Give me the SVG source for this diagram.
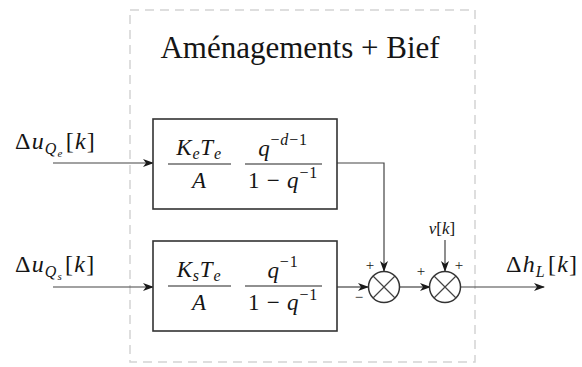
<svg xmlns="http://www.w3.org/2000/svg" width="582" height="367" viewBox="0 0 582 367">
<style>
.frame{fill:none;stroke:#d4d4d4;stroke-width:1.5;stroke-dasharray:9 6}
.blk{fill:#fff;stroke:#333;stroke-width:1.6}
.ln{fill:none;stroke:#444;stroke-width:1.2}
.bar{stroke:#222;stroke-width:1.1}
.sum{fill:#fff;stroke:#333;stroke-width:1.5}
text{font-family:'Liberation Serif','DejaVu Serif',serif;fill:#151515}
.m{font-size:23px}
.lb{font-size:24px;letter-spacing:1.2px}
.fr{letter-spacing:0.8px}
.i{font-style:italic}
.s{font-size:16px}
.ss{font-size:11px}
.sg{font-size:15px}
</style>
<defs>
<marker id="ah" markerWidth="11" markerHeight="8" refX="10" refY="4" orient="auto" markerUnits="userSpaceOnUse">
<path d="M0,0 L11,4 L0,8 L3,4 Z" fill="#1a1a1a"/>
</marker>
</defs>
<rect class="frame" x="130" y="10" width="345" height="352"/>
<text x="300" y="58" text-anchor="middle" font-size="31">Aménagements + Bief</text>

<g id="connectors">
<line class="ln" x1="53" y1="163" x2="153" y2="163" marker-end="url(#ah)"/>
<line class="ln" x1="53" y1="287" x2="153" y2="287" marker-end="url(#ah)"/>
<polyline class="ln" points="337,163 384,163 384,271" marker-end="url(#ah)"/>
<line class="ln" x1="337" y1="287" x2="368" y2="287" marker-end="url(#ah)"/>
<line class="ln" x1="400" y1="287" x2="430" y2="287" marker-end="url(#ah)"/>
<line class="ln" x1="445" y1="240" x2="445" y2="271" marker-end="url(#ah)"/>
<line class="ln" x1="461" y1="287" x2="544" y2="287" marker-end="url(#ah)"/>
</g>

<g id="in1">
<text class="lb" x="15" y="149">Δ<tspan class="i">u</tspan><tspan class="s i" dy="5">Q</tspan><tspan class="ss i" dy="3">e</tspan><tspan dx="2" dy="-8">[</tspan><tspan class="i">k</tspan>]</text>
</g>
<g id="in2">
<text class="lb" x="15" y="272">Δ<tspan class="i">u</tspan><tspan class="s i" dy="5">Q</tspan><tspan class="ss i" dy="3">s</tspan><tspan dx="2" dy="-8">[</tspan><tspan class="i">k</tspan>]</text>
</g>

<g id="block1">
<rect class="blk" x="153" y="119" width="184" height="90"/>
<line class="bar" x1="168" y1="164" x2="231" y2="164"/>
<text class="m i fr" x="199" y="155" text-anchor="middle">K<tspan class="s" dy="4">e</tspan><tspan dy="-4">T</tspan><tspan class="s" dy="4">e</tspan></text>
<text class="m i" x="199" y="188" text-anchor="middle">A</text>
<line class="bar" x1="245" y1="164" x2="322" y2="164"/>
<text class="m fr" x="283" y="156" text-anchor="middle"><tspan class="i">q</tspan><tspan class="s" dy="-11">−<tspan class="i">d</tspan>−1</tspan></text>
<text class="m fr" x="283" y="188" text-anchor="middle">1 − <tspan class="i">q</tspan><tspan class="s" dy="-10">−1</tspan></text>
</g>

<g id="block2">
<rect class="blk" x="153" y="241" width="184" height="90"/>
<line class="bar" x1="168" y1="286" x2="231" y2="286"/>
<text class="m i fr" x="199" y="277" text-anchor="middle">K<tspan class="s" dy="4">s</tspan><tspan dy="-4">T</tspan><tspan class="s" dy="4">e</tspan></text>
<text class="m i" x="199" y="310" text-anchor="middle">A</text>
<line class="bar" x1="245" y1="286" x2="322" y2="286"/>
<text class="m fr" x="283" y="278" text-anchor="middle"><tspan class="i">q</tspan><tspan class="s" dy="-11">−1</tspan></text>
<text class="m fr" x="283" y="310" text-anchor="middle">1 − <tspan class="i">q</tspan><tspan class="s" dy="-10">−1</tspan></text>
</g>

<g id="sum1">
<circle class="sum" cx="384" cy="287" r="15.5"/>
<path class="ln" stroke-width="1.4" d="M373,276 L395,298 M395,276 L373,298"/>
<text class="sg" x="370" y="270" text-anchor="middle">+</text>
<text class="sg" x="359" y="302" text-anchor="middle">−</text>
</g>

<g id="sum2">
<circle class="sum" cx="445" cy="287" r="15.5"/>
<path class="ln" stroke-width="1.4" d="M434,276 L456,298 M456,276 L434,298"/>
<text class="sg" x="421" y="276" text-anchor="middle">+</text>
<text class="sg" x="459" y="270" text-anchor="middle">+</text>
</g>

<g id="vk">
<text x="442" y="234" text-anchor="middle" font-size="17"><tspan class="i">v</tspan>[<tspan class="i">k</tspan>]</text>
</g>

<g id="out">
<text class="lb" x="506" y="272">Δ<tspan class="i">h</tspan><tspan class="s i" dy="5">L</tspan><tspan dx="2" dy="-5">[</tspan><tspan class="i">k</tspan>]</text>
</g>
</svg>
